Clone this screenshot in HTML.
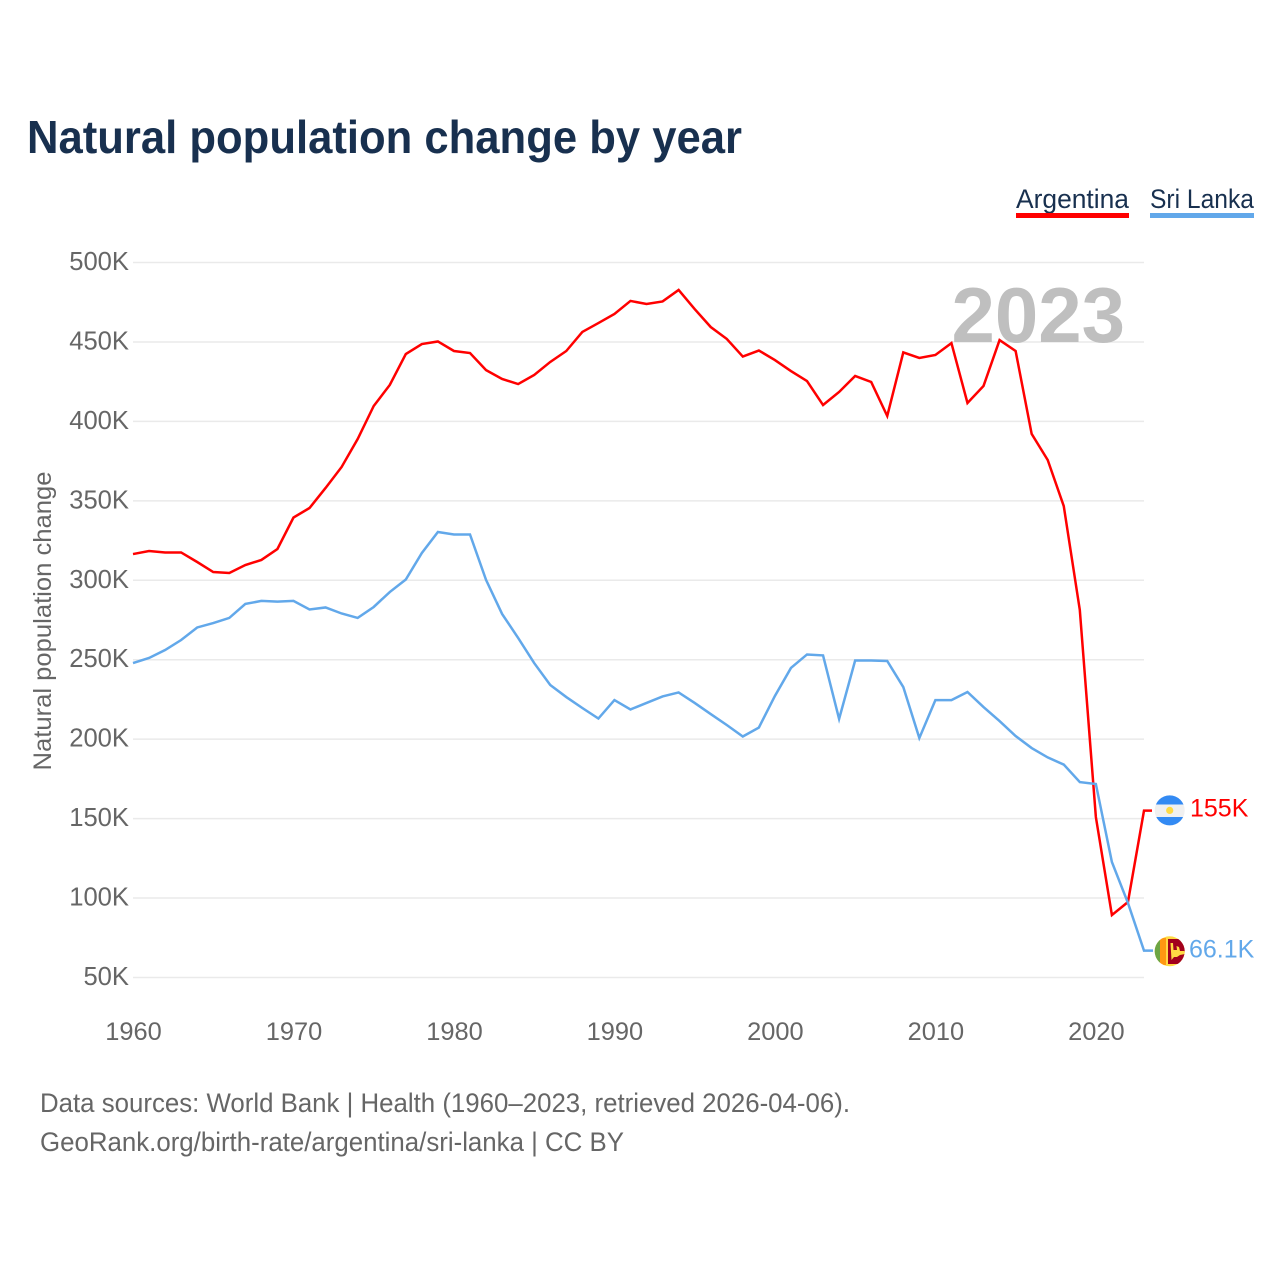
<!DOCTYPE html>
<html lang="en">
<head>
<meta charset="utf-8">
<title>Natural population change by year</title>
<style>
  html, body { margin: 0; padding: 0; background: #fff; }
  svg { display: block; font-family: "Liberation Sans", sans-serif; }
</style>
</head>
<body>
<svg id="chart" xmlns="http://www.w3.org/2000/svg" width="1280" height="1280" viewBox="0 0 1280 1280">
  <rect x="0" y="0" width="1280" height="1280" fill="#ffffff"/>
  <text x="27" y="153" font-size="46" font-weight="700" fill="#18304f" textLength="715" lengthAdjust="spacingAndGlyphs">Natural population change by year</text>

  <g>
    <g>
      <text x="1016" y="208" font-size="27" fill="#18304f" textLength="113" lengthAdjust="spacingAndGlyphs">Argentina</text>
      <rect x="1016" y="213" width="113" height="5" fill="#ff0000"/>
    </g>
    <g>
      <text x="1150" y="208" font-size="27" fill="#18304f" textLength="104" lengthAdjust="spacingAndGlyphs">Sri Lanka</text>
      <rect x="1150" y="213" width="104" height="5" fill="#62a8ea"/>
    </g>
  </g>

  <g id="grid"></g>
  <text x="1125" y="342" font-size="78" font-weight="700" fill="#bfbfbf" text-anchor="end">2023</text>
  <g id="y-axis"></g>
  <g id="x-axis"></g>
  <text transform="translate(51,621) rotate(-90)" text-anchor="middle" font-size="25" fill="#666666" textLength="299" lengthAdjust="spacingAndGlyphs">Natural population change</text>
  <g id="series"></g>

  <defs>
    <clipPath id="flag-clip-ar"><circle cx="1169.7" cy="810.4" r="15"/></clipPath>
    <clipPath id="flag-clip-lk"><circle cx="1169.7" cy="951.3" r="15"/></clipPath>
  </defs>
  <g clip-path="url(#flag-clip-ar)">
    <rect x="1154" y="795" width="32" height="31" fill="#f0f0f0"/>
    <rect x="1154" y="795" width="32" height="9.5" fill="#338af3"/>
    <rect x="1154" y="817" width="32" height="9.5" fill="#338af3"/>
    <circle cx="1169.7" cy="810.4" r="3.6" fill="#ffda44"/>
  </g>
  <g clip-path="url(#flag-clip-lk)">
    <rect x="1154" y="936" width="32" height="31" fill="#ffda44"/>
    <rect x="1154" y="936" width="6" height="31" fill="#6da544"/>
    <rect x="1160" y="938" width="6" height="27" fill="#ff9811"/>
    <rect x="1168" y="939" width="17" height="25" fill="#a2001d"/>
    <path d="M1170.5 943 L1173 943 L1173.5 950 L1177 950 L1176.5 946 L1179 947 L1180 951 L1185 951 L1185 954 L1180 955 L1177 957 L1174 957 L1171.5 960 Z" fill="#ffda44"/>
  </g>
  <g id="end-labels"></g>

  <g>
    <text x="40" y="1112" font-size="27" fill="#666666" textLength="810" lengthAdjust="spacingAndGlyphs">Data sources: World Bank | Health (1960–2023, retrieved 2026-04-06).</text>
    <text x="40" y="1151" font-size="27" fill="#666666" textLength="584" lengthAdjust="spacingAndGlyphs">GeoRank.org/birth-rate/argentina/sri-lanka | CC BY</text>
  </g>
</svg>
<script>
const years = [1960,1961,1962,1963,1964,1965,1966,1967,1968,1969,1970,1971,1972,1973,1974,1975,1976,1977,1978,1979,1980,1981,1982,1983,1984,1985,1986,1987,1988,1989,1990,1991,1992,1993,1994,1995,1996,1997,1998,1999,2000,2001,2002,2003,2004,2005,2006,2007,2008,2009,2010,2011,2012,2013,2014,2015,2016,2017,2018,2019,2020,2021,2022,2023];
const argentina = [316.5,318.4,317.5,317.5,311.5,305.2,304.6,309.6,312.8,319.7,339.5,345.5,358.1,371.3,388.9,409.7,422.9,442.4,448.7,450.3,444.3,443,432.3,426.7,423.5,429.2,437.4,444.3,456.3,461.9,467.6,475.8,473.9,475.5,482.7,470.7,459.4,451.9,440.8,444.6,438.6,431.7,425.4,410.3,418.5,428.6,424.8,403.4,443.4,439.9,441.8,449.3,411.6,422.3,451.2,444.3,392.1,375.7,346.7,281.3,151,89.3,97.5,155];
const sriLanka = [247.9,251.1,256.1,262.4,270.3,273.1,276.3,285.1,287,286.6,287,281.6,282.9,279.1,276.3,283.2,292.6,300.5,317.2,330.4,328.8,328.8,300.2,278.8,263.7,247.9,234.1,226.5,219.6,213,224.6,218.7,222.8,226.9,229.4,222.8,215.8,208.9,201.7,207.3,227.2,244.8,253.3,252.7,212.7,249.5,249.5,249.2,232.8,200.7,224.6,224.6,229.7,220.2,211.4,202,194.4,188.5,184,173,171.8,122.7,96.9,66.9];
const yTickValues = [50,100,150,200,250,300,350,400,450,500];
const yTickLabels = ["50K","100K","150K","200K","250K","300K","350K","400K","450K","500K"];
const xTickValues = [1960,1970,1980,1990,2000,2010,2020];
const xTickLabels = ["1960","1970","1980","1990","2000","2010","2020"];
const endLabels = ["155K","66.1K"];

const SVG_NS = "http://www.w3.org/2000/svg";
function xScale(year) {
  return 133 + (year - 1960) * (1144 - 133) / (2023 - 1960);
}
function yScale(value) {
  return 977.5 - (value - 50) * (977.5 - 262.5) / (500 - 50);
}
function make(tag, parent, attrs, text) {
  const el = document.createElementNS(SVG_NS, tag);
  for (const key in attrs) el.setAttribute(key, attrs[key]);
  if (text !== undefined) el.textContent = text;
  parent.appendChild(el);
  return el;
}
function linePath(values, tailX) {
  let d = "";
  values.forEach(function (v, i) {
    d += (i === 0 ? "M" : "L") + xScale(years[i]).toFixed(2) + " " + yScale(v).toFixed(2) + " ";
  });
  d += "L" + tailX + " " + yScale(values[values.length - 1]).toFixed(2);
  return d;
}

const gridGroup = document.getElementById("grid");
const yAxisGroup = document.getElementById("y-axis");
const xAxisGroup = document.getElementById("x-axis");
const seriesGroup = document.getElementById("series");
const endGroup = document.getElementById("end-labels");

yTickValues.forEach(function (v, i) {
  const grid = make("line", gridGroup, { x1: 133, x2: 1144, y1: yScale(v), y2: yScale(v), stroke: "#eaeaea", "stroke-width": 1.5 });
  
  
  const label = make("text", yAxisGroup, { x: 129, y: yScale(v) + 7.5, "text-anchor": "end", "font-size": 25.6, fill: "#666666" }, yTickLabels[i]);
  
  
});

xTickValues.forEach(function (v, i) {
  const label = make("text", xAxisGroup, { x: xScale(v) + 0.5, y: 1040, "text-anchor": "middle", "font-size": 25.4, fill: "#666666" }, xTickLabels[i]);
  
  
});

const redLine = make("path", seriesGroup, { d: linePath(argentina, 1152), fill: "none", stroke: "#ff0000", "stroke-width": 2.5, "stroke-linejoin": "miter" });



const blueLine = make("path", seriesGroup, { d: linePath(sriLanka, 1153), fill: "none", stroke: "#62a8ea", "stroke-width": 2.5, "stroke-linejoin": "miter" });



const endRed = make("text", endGroup, { x: 1190, y: yScale(argentina[argentina.length - 1]) + 5.8, "font-size": 25, fill: "#ff0000" }, endLabels[0]);



const endBlue = make("text", endGroup, { x: 1189, y: yScale(sriLanka[sriLanka.length - 1]) + 7, "font-size": 25, fill: "#62a8ea" }, endLabels[1]);


</script>
</body>
</html>
